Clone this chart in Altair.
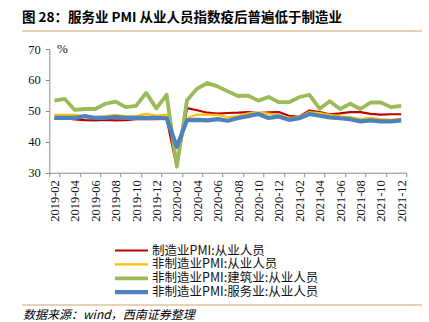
import altair as alt
import pandas as pd

months = [
    "2019-02", "2019-03", "2019-04", "2019-05", "2019-06", "2019-07", "2019-08",
    "2019-09", "2019-10", "2019-11", "2019-12", "2020-01", "2020-02", "2020-03",
    "2020-04", "2020-05", "2020-06", "2020-07", "2020-08", "2020-09", "2020-10",
    "2020-11", "2020-12", "2021-01", "2021-02", "2021-03", "2021-04", "2021-05",
    "2021-06", "2021-07", "2021-08", "2021-09", "2021-10", "2021-11", "2021-12",
]

mfg = [47.5, 47.6, 47.2, 47.0, 46.9, 47.1, 46.9, 47.0, 47.3, 47.3, 47.3, 47.5,
       31.8, 50.9, 50.2, 49.4, 49.1, 49.3, 49.4, 49.6, 49.3, 49.5, 49.6,
       48.4, 48.1, 50.1, 49.6, 48.9, 49.2, 49.6, 49.6, 49.0, 48.8, 48.9, 48.9]
nonmfg = [48.7, 48.7, 48.7, 48.2, 48.0, 48.2, 48.7, 48.2, 48.3, 49.0, 48.5, 48.7,
          37.9, 47.7, 48.8, 48.8, 48.7, 48.0, 48.3, 49.2, 49.4, 49.1, 48.7,
          47.7, 48.0, 49.6, 49.3, 48.7, 48.2, 48.0, 47.3, 47.7, 47.3, 47.1, 47.4]
constr = [53.3, 53.9, 50.3, 50.6, 50.6, 52.3, 53.0, 51.2, 51.6, 55.8, 50.8, 55.2,
          32.0, 53.4, 57.2, 59.0, 57.9, 56.3, 54.8, 54.9, 53.3, 54.5, 52.8,
          52.8, 54.4, 55.2, 50.7, 53.1, 50.6, 52.3, 50.6, 52.7, 52.7, 51.2, 51.6]
service = [47.7, 47.7, 47.7, 48.3, 47.7, 47.7, 48.0, 47.7, 47.7, 47.7, 47.7, 47.6,
           38.4, 47.0, 47.1, 46.9, 47.3, 46.8, 47.7, 48.3, 49.0, 47.7, 48.2,
           47.1, 47.6, 49.0, 48.4, 47.9, 47.6, 47.3, 46.6, 46.9, 46.6, 46.6, 46.9]

names = ["制造业PMI:从业人员", "非制造业PMI:从业人员",
         "非制造业PMI:建筑业:从业人员", "非制造业PMI:服务业:从业人员"]
colors = ["#C00000", "#FFC000", "#9BBB59", "#4F81BD"]
widths = [2.2, 2.2, 3.8, 4.2]
series = [mfg, nonmfg, constr, service]

y_ticks = [30, 40, 50, 60, 70]
x_tick_labels = months[::2]

title_text = "图 28：服务业 PMI 从业人员指数疫后普遍低于制造业"
source_text = "数据来源：wind，西南证券整理"

W, H = 357, 123.7
LEFT, TOP = 49.3, 49
CJK = "Noto Sans CJK SC"
SERIF = "Liberation Serif"

x_enc = alt.X(
    "month:O", sort=months, bandPosition=0.5,
    scale=alt.Scale(type="band", domain=months, paddingInner=0, paddingOuter=0),
    axis=alt.Axis(title=None, values=x_tick_labels, labelAngle=270, tickBand="extent",
                  tickSize=4, labelPadding=3, labelFont=SERIF, labelFontSize=12.5,
                  labelColor="#111", domainColor="#8c8c8c", tickColor="#8c8c8c",
                  grid=False, labelOverlap=False),
)
y_enc = alt.Y(
    "value:Q",
    scale=alt.Scale(domain=[30, 70], nice=False, zero=False),
    axis=alt.Axis(title=None, values=y_ticks, tickSize=4, labelPadding=5,
                  labelFont=SERIF, labelFontSize=12.5, labelColor="#111",
                  domainColor="#8c8c8c", tickColor="#8c8c8c", grid=False),
)

layers = []
for name, vals, c, w in zip(names, series, colors, widths):
    d = pd.DataFrame({"month": months, "value": vals})
    layers.append(
        alt.Chart(d).mark_line(color=c, strokeWidth=w, strokeJoin="round")
        .encode(x=x_enc, y=y_enc)
    )

one = pd.DataFrame({"k": [0]})

# title
layers.append(alt.Chart(pd.DataFrame({"t": [title_text]})).mark_text(
    align="left", baseline="middle", font=CJK, fontSize=13.5, fontWeight="bold",
    color="#000").encode(x=alt.value(22 - LEFT), y=alt.value(18 - TOP), text="t:N"))
# tan lines
for yy in (31, 305):
    layers.append(alt.Chart(one).mark_rule(color="#D2A46C", strokeWidth=1.2).encode(
        x=alt.value(22 - LEFT), x2=alt.value(422 - LEFT), y=alt.value(yy - TOP)))
# percent unit
layers.append(alt.Chart(pd.DataFrame({"t": ["%"]})).mark_text(
    align="left", baseline="middle", font=SERIF, fontSize=13, color="#111").encode(
    x=alt.value(57 - LEFT), y=alt.value(49 - TOP), text="t:N"))

# legend
for i, (name, c, w) in enumerate(zip(names, colors, widths)):
    yy = 250.5 + i * 13.9 - TOP
    layers.append(alt.Chart(one).mark_rule(color=c, strokeWidth=w).encode(
        x=alt.value(115 - LEFT), x2=alt.value(148 - LEFT), y=alt.value(yy)))
    layers.append(alt.Chart(pd.DataFrame({"t": [name]})).mark_text(
        align="left", baseline="middle", font=CJK, fontSize=12.5, color="#111").encode(
        x=alt.value(152 - LEFT), y=alt.value(yy), text="t:N"))

# source
layers.append(alt.Chart(pd.DataFrame({"t": [source_text]})).mark_text(
    align="left", baseline="middle", font=CJK, fontSize=12, fontStyle="italic",
    color="#000").encode(x=alt.value(23 - LEFT), y=alt.value(314.5 - TOP), text="t:N"))

chart = alt.layer(*layers).properties(
    width=W, height=H,
    autosize=alt.AutoSizeParams(type="none"),
    padding={"left": LEFT, "top": TOP, "right": 429 - LEFT - W, "bottom": 322 - TOP - H},
    background="white",
).configure_view(stroke=None)

chart.save("out.html", embed_options={"renderer": "svg", "actions": False})
